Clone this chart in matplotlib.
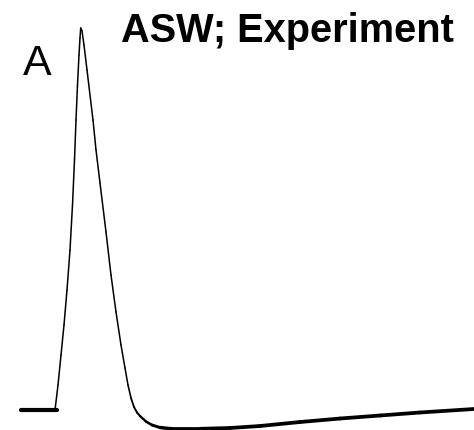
import matplotlib
matplotlib.use("Agg")
import matplotlib.pyplot as plt
import numpy as np
from matplotlib.collections import LineCollection

# Membrane potential trace (time in ms, voltage in mV)
baseline_t = [-0.85, 0.04]
baseline_v = [-60.0, -60.0]

trace_t = [0.0, 0.075, 0.15, 0.225, 0.3, 0.375, 0.4375, 0.4875, 0.525,
           0.5625, 0.6, 0.625, 0.6425,
           0.675, 0.725, 0.8, 0.95, 1.025, 1.125, 1.275, 1.4, 1.525,
           1.65, 1.75, 1.825, 1.9, 1.975, 2.05, 2.125, 2.275, 2.425,
           2.625, 2.925, 3.625, 4.375, 5.125, 6.125, 7.125, 8.125,
           9.125, 10.475]
trace_v = [-60.0, -52.86, -44.29, -35.71, -25.71, -14.29, -1.43, 11.43, 22.86,
           32.86, 41.43, 46.29, 49.14,
           48.29, 44.29, 37.14, 22.86, 14.29, 4.86, -9.14, -21.43, -32.0,
           -41.43, -48.0, -52.86, -56.57, -59.14, -60.71, -61.71, -63.29, -64.29,
           -65.0, -65.37, -65.37, -65.14, -64.57, -63.43, -62.43, -61.57,
           -60.71, -59.71]

panel_label = "A"
title = "ASW; Experiment"

fig = plt.figure(figsize=(4.74, 4.30), dpi=100)
ax = fig.add_axes([0, 0, 1, 1])
ax.set_xlim(-1.375, 10.475)
ax.set_ylim(-65.71, 57.14)
ax.axis("off")

ax.plot(baseline_t, baseline_v, color="black", lw=3.0, solid_capstyle="round")

t = np.array(trace_t)
v = np.array(trace_v)
pts = np.column_stack([t, v]).reshape(-1, 1, 2)
segs = np.concatenate([pts[:-1], pts[1:]], axis=1)
mid_t = 0.5 * (t[:-1] + t[1:])
widths = np.where(mid_t < 1.8, 1.1, np.clip(1.1 + (mid_t - 1.8) * 1.4, 1.1, 2.7))
lc = LineCollection(segs, colors="black", linewidths=widths, capstyle="round", joinstyle="round")
ax.add_collection(lc)

fig.text(23 / 474, 1 - 75 / 430, panel_label, fontsize=31, family="Liberation Sans",
         ha="left", va="baseline")
fig.text(121 / 474, 1 - 42.5 / 430, title, fontsize=28.6, family="Liberation Sans",
         fontweight="bold", ha="left", va="baseline")

fig.savefig("out.png", dpi=100)
